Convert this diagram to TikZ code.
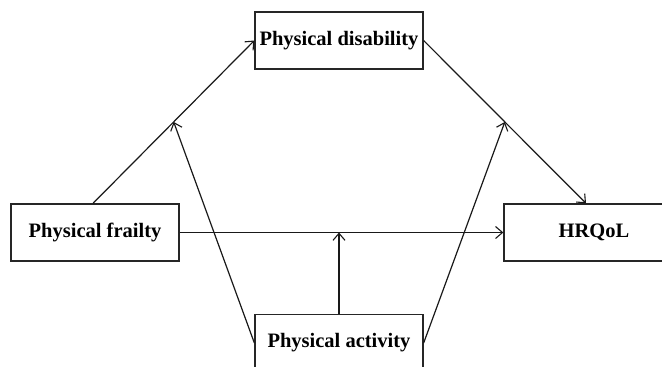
\documentclass[tikz,border=0pt]{standalone}
\usepackage{fontspec}
\setmainfont{Liberation Serif}
\usetikzlibrary{arrows.meta,calc}
\begin{document}
\begin{tikzpicture}[x=1pt,y=-1pt,
  box/.style={draw=black!85,line width=1.3pt,rectangle,inner sep=0pt,
    minimum width=168pt,minimum height=57pt,
    font=\fontsize{20.5pt}{24pt}\selectfont\bfseries},
  conn/.style={draw=black!90,line width=1.2pt,-{Straight Barb[length=7pt,width=12pt,line width=1.1pt]}}]
\useasboundingbox (0,0) rectangle (662,367);
\clip (0,0) rectangle (662,367);
\fill[white] (0,0) rectangle (662,367);
\node[box] (dis) at (339,40.5) {Physical disability};
\node[box] (frail) at (95,232.5) {Physical frailty};
\node[box,minimum width=180pt] (hrq) at (594,232.5) {HRQoL};
\node[box] (act) at (339,343) {Physical activity};
\coordinate (ht) at ([xshift=-8pt]hrq.north);
\coordinate (fn) at ([xshift=-2pt]frail.north);
\draw[conn] (fn) -- (dis.west);
\draw[conn] (dis.east) -- (ht);
\draw[conn] (frail.east) -- (hrq.west);
\coordinate (m1) at ($(fn)!0.5!(dis.west)$);
\coordinate (m2) at ($(dis.east)!0.5!(ht)$);
\coordinate (m3) at ($(frail.east)!0.5!(hrq.west)$);
\draw[conn] (act.north) -- (act.north |- m3);
\draw[conn] (act.west) -- (m1);
\draw[conn] (act.east) -- (m2);
\end{tikzpicture}
\end{document}
